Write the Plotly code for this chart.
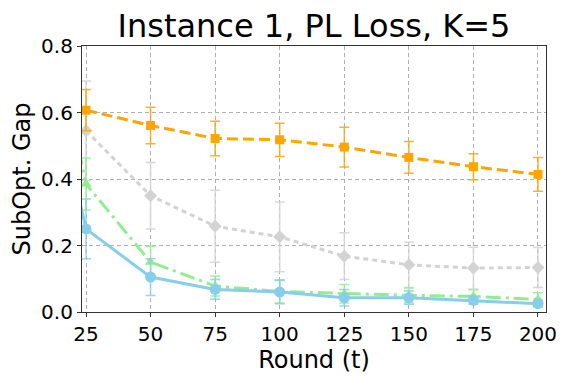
import plotly.graph_objects as go

rounds = [25, 50, 75, 100, 125, 150, 175, 200]
# green and blue runs also start at t=20 (clipped by the x range in the original)
rounds_ext = [20] + rounds

orange_mean = [0.607, 0.561, 0.522, 0.518, 0.496, 0.465, 0.437, 0.414]
orange_err = [0.062, 0.055, 0.052, 0.050, 0.060, 0.048, 0.039, 0.051]

gray_mean = [0.545, 0.350, 0.258, 0.226, 0.168, 0.142, 0.132, 0.134]
gray_err = [0.150, 0.100, 0.108, 0.105, 0.070, 0.068, 0.063, 0.060]

green_mean = [0.57, 0.385, 0.150, 0.078, 0.062, 0.055, 0.050, 0.047, 0.038]
green_err = [0.0, 0.078, 0.048, 0.030, 0.035, 0.028, 0.022, 0.020, 0.020]

blue_mean = [0.42, 0.250, 0.105, 0.068, 0.060, 0.043, 0.043, 0.035, 0.025]
blue_err = [0.0, 0.090, 0.055, 0.030, 0.035, 0.025, 0.020, 0.012, 0.010]

y_ticks = [0.0, 0.2, 0.4, 0.6, 0.8]

series = [
    (rounds, gray_mean, gray_err, "#D3D3D3", "rgba(211,211,211,0.85)", "5px,4px", "diamond", 10),
    (rounds, orange_mean, orange_err, "#FFA500", "rgba(255,165,0,0.85)", "11px,5px", "square", 9),
    (rounds_ext, green_mean, green_err, "#90EE90", "rgba(144,238,144,0.85)", "15px,5px,3px,5px", "triangle-up", 10),
    (rounds_ext, blue_mean, blue_err, "#87CEEB", "rgba(135,206,235,0.85)", "solid", "circle", 11),
]

fig = go.Figure()
for xs, ys, errs, col, ecol, dash, sym, msize in series:
    fig.add_trace(go.Scatter(
        x=xs, y=ys,
        mode="lines+markers",
        line=dict(color=col, width=3, dash=dash),
        marker=dict(color=col, symbol=sym, size=msize),
        error_y=dict(type="data", array=errs, visible=True,
                     color=ecol, thickness=1.5, width=5),
        showlegend=False,
    ))

# the page body adds an 8px margin, so the figure is 8px smaller than the window
fig.update_layout(
    width=563, height=373,
    template="plotly_white",
    font=dict(family="DejaVu Sans", color="black"),
    margin=dict(l=74, r=25, t=38, b=69),
    plot_bgcolor="white",
    paper_bgcolor="white",
    title=dict(text="Instance 1, PL Loss, K=5", x=0.5435, xanchor="center",
               y=0.952, yanchor="middle", font=dict(size=32, color="black")),
)
fig.update_xaxes(
    range=[23.45, 203.1],
    tickvals=rounds, ticktext=[str(r) for r in rounds],
    title=dict(text="Round (t)", font=dict(size=24), standoff=2),
    tickfont=dict(size=20),
    showgrid=True, gridcolor="#b0b0b0", griddash="4px,3px", gridwidth=1,
    showline=True, linecolor="#333", linewidth=1.2, mirror=True,
    ticks="outside", ticklen=4, tickcolor="#333",
    zeroline=False,
)
fig.update_yaxes(
    range=[0, 0.8],
    tickvals=y_ticks, ticktext=[f"{v:.1f}" for v in y_ticks],
    title=dict(text="SubOpt. Gap", font=dict(size=24), standoff=4),
    tickfont=dict(size=20),
    showgrid=True, gridcolor="#b0b0b0", griddash="4px,3px", gridwidth=1,
    showline=True, linecolor="#333", linewidth=1.2, mirror=True,
    ticks="outside", ticklen=4, tickcolor="#333",
    zeroline=False,
)

fig.write_html("out.html")
